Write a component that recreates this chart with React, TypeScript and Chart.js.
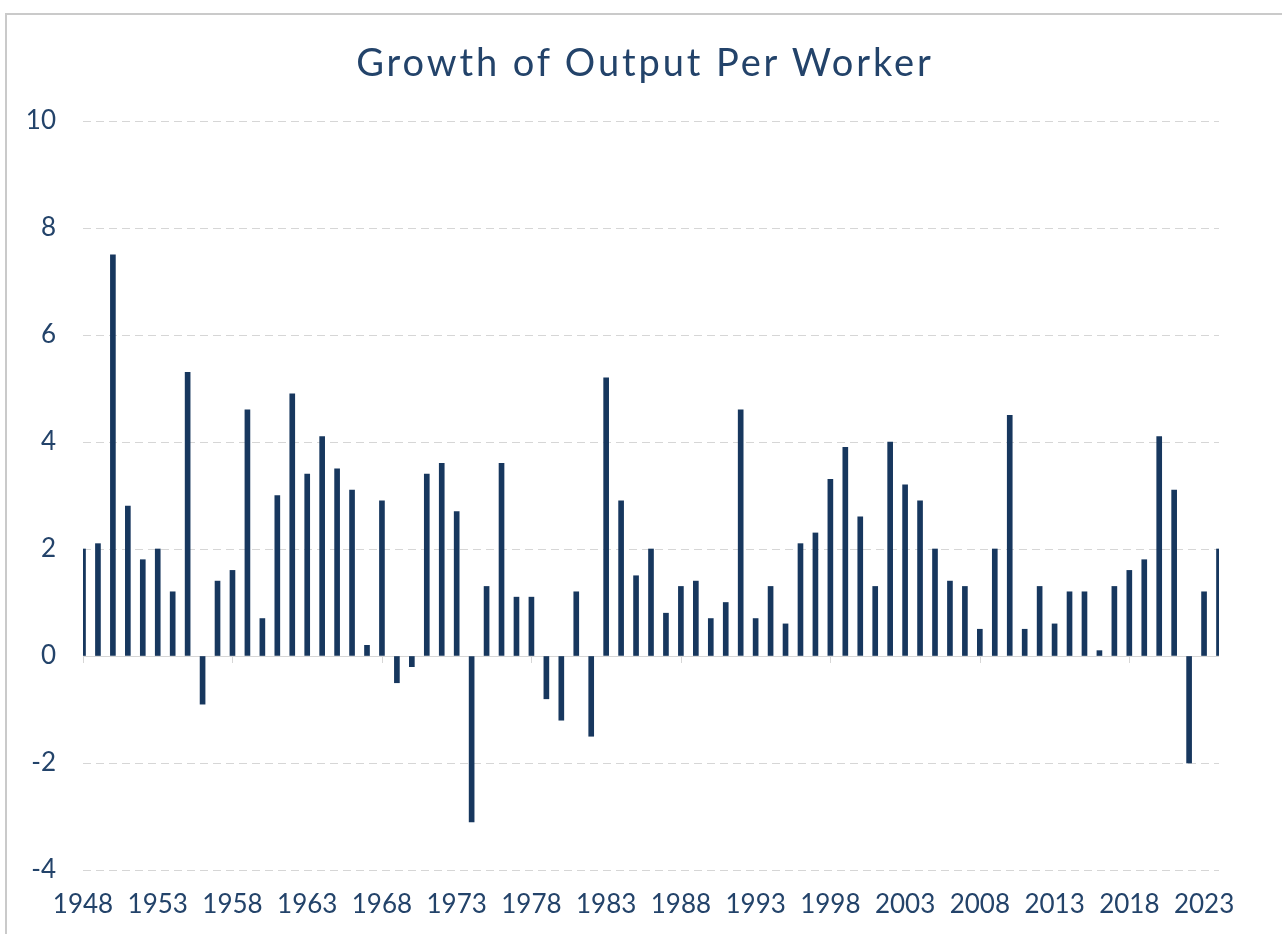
import React, { useEffect, useRef } from 'react';
import { Chart, registerables } from 'chart.js';

Chart.register(...registerables);

const years = [
  '1948', '1949', '1950', '1951', '1952', '1953', '1954', '1955', '1956', '1957',
  '1958', '1959', '1960', '1961', '1962', '1963', '1964', '1965', '1966', '1967',
  '1968', '1969', '1970', '1971', '1972', '1973', '1974', '1975', '1976', '1977',
  '1978', '1979', '1980', '1981', '1982', '1983', '1984', '1985', '1986', '1987',
  '1988', '1989', '1990', '1991', '1992', '1993', '1994', '1995', '1996', '1997',
  '1998', '1999', '2000', '2001', '2002', '2003', '2004', '2005', '2006', '2007',
  '2008', '2009', '2010', '2011', '2012', '2013', '2014', '2015', '2016', '2017',
  '2018', '2019', '2020', '2021', '2022', '2023', '2024',
];

const growth = [
  2.0, 2.1, 7.5, 2.8, 1.8, 2.0, 1.2, 5.3, -0.9, 1.4,
  1.6, 4.6, 0.7, 3.0, 4.9, 3.4, 4.1, 3.5, 3.1, 0.2,
  2.9, -0.5, -0.2, 3.4, 3.6, 2.7, -3.1, 1.3, 3.6, 1.1,
  1.1, -0.8, -1.2, 1.2, -1.5, 5.2, 2.9, 1.5, 2.0, 0.8,
  1.3, 1.4, 0.7, 1.0, 4.6, 0.7, 1.3, 0.6, 2.1, 2.3,
  3.3, 3.9, 2.6, 1.3, 4.0, 3.2, 2.9, 2.0, 1.4, 1.3,
  0.5, 2.0, 4.5, 0.5, 1.3, 0.6, 1.2, 1.2, 0.1, 1.3,
  1.6, 1.8, 4.1, 3.1, -2.0, 1.2, 2.0,
];

const yMin = -4;
const yMax = 10;
const yStep = 2;
const labelEvery = 5;
const tickMarkEvery = 10;
const TITLE = 'Growth of Output Per Worker';

const TEXT = '#23436a';
const BAR = '#17375e';
const GRID = '#d6d6d6';
const FONT = 'Lato, "Open Sans", sans-serif';

const zeroTicks = {
  id: 'zeroTicks',
  afterDatasetsDraw(chart: any) {
    const xs = chart.scales.x;
    const ys = chart.scales.y;
    const ctx = chart.ctx;
    const y0 = ys.getPixelForValue(0);
    ctx.save();
    ctx.strokeStyle = GRID;
    ctx.lineWidth = 1;
    years.forEach((_, i) => {
      if (i % tickMarkEvery === 0) {
        const px = Math.round(xs.getPixelForValue(i)) + 0.5;
        ctx.beginPath();
        ctx.moveTo(px, y0);
        ctx.lineTo(px, y0 + 7);
        ctx.stroke();
      }
    });
    ctx.restore();
  },
};

export default function App() {
  const ref = useRef<HTMLCanvasElement | null>(null);

  useEffect(() => {
    document.body.style.margin = '0';
    if (!ref.current) return;
    const chart = new Chart(ref.current, {
      type: 'bar',
      data: {
        labels: years,
        datasets: [
          {
            data: growth,
            backgroundColor: BAR,
            borderWidth: 0,
            barThickness: 5,
          },
        ],
      },
      plugins: [zeroTicks],
      options: {
        animation: false,
        responsive: false,
        devicePixelRatio: 1,
        layout: { padding: { left: 0, right: 63, top: 121, bottom: 0 } },
        plugins: {
          legend: { display: false },
          tooltip: { enabled: false },
          title: { display: false },
        },
        scales: {
          x: {
            offset: false,
            afterFit: (s: any) => {
              s.height = 64;
            },
            grid: { display: false, drawTicks: false },
            border: { display: false },
            ticks: {
              autoSkip: false,
              maxRotation: 0,
              minRotation: 0,
              padding: 19,
              color: TEXT,
              font: { family: FONT, size: 26 },
              callback: (_v: any, i: number) => (i % labelEvery === 0 ? years[i] : ''),
            },
          },
          y: {
            min: yMin,
            max: yMax,
            afterFit: (s: any) => {
              s.width = 83;
            },
            grid: {
              color: GRID,
              lineWidth: 1,
              drawTicks: false,
            },
            border: {
              display: false,
              dash: (c: any) => (c.tick && c.tick.value === 0 ? [] : [8, 5]),
            },
            ticks: {
              stepSize: yStep,
              padding: 27,
              color: TEXT,
              font: { family: FONT, size: 26 },
            },
          },
        },
      },
    } as any);
    return () => chart.destroy();
  }, []);

  return (
    <div style={{ position: 'relative', width: 1282, height: 934, overflow: 'hidden', background: '#fff' }}>
      <div
        style={{
          position: 'absolute',
          left: 5,
          top: 13,
          width: 1400,
          height: 1000,
          borderTop: '2px solid #cacaca',
          borderLeft: '2px solid #cacaca',
          boxSizing: 'border-box',
        }}
      />
      <canvas ref={ref} width={1282} height={934} style={{ position: 'absolute', left: 0, top: 0 }} />
      <div
        style={{
          position: 'absolute',
          left: 8,
          width: 1274,
          top: 39,
          textAlign: 'center',
          fontFamily: FONT,
          fontSize: 38,
          lineHeight: '44px',
          letterSpacing: '2.9px',
          color: TEXT,
          whiteSpace: 'nowrap',
        }}
      >
        {TITLE}
      </div>
    </div>
  );
}
